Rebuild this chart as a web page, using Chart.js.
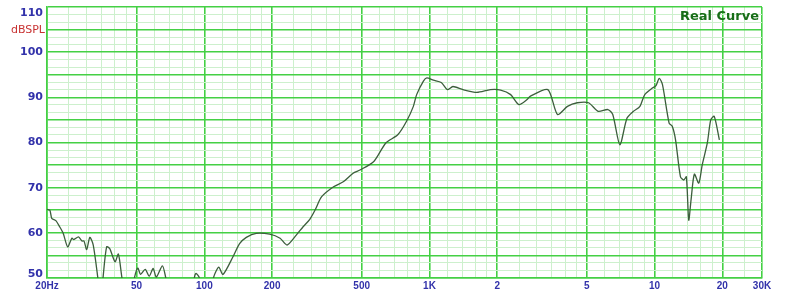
<!DOCTYPE html>
<html>
<head>
<meta charset="utf-8">
<script src="https://cdn.jsdelivr.net/npm/chart.js@4.4.1/dist/chart.umd.min.js"></script>
<style>
  html, body { margin: 0; padding: 0; background: #fff; }
  #wrap { width: 800px; height: 294px; }
</style>
</head>
<body>
<div id="wrap"><canvas id="fr-chart" width="800" height="294"></canvas></div>
<script>
const freqHz = [
    20, 20.6, 21, 21.9, 22.8, 23.6, 24.7, 25.8, 26.3, 27.6, 28.6, 29.2, 30, 31, 32.1,
    33.6, 34.3, 35, 35.5, 36.8, 38, 40.1, 41.5, 43, 44.5, 47.5, 49, 50.6, 52.1, 54.6,
    56.9, 59.2, 61.2, 65.1, 67.3, 70, 88, 90.4, 91.9, 94.7, 100, 107, 110, 115.9, 121,
    134, 143.4, 153.6, 170, 195, 217, 233, 256, 274, 294, 310, 332, 375, 414, 458,
    491, 566, 640, 723, 791, 848, 877, 940, 973, 1041, 1128, 1200, 1271, 1410, 1625,
    1866, 2070, 2295, 2496, 2714, 2798, 3357, 3705, 4101, 4532, 5088, 5617, 6205, 6519, 7008,
    7544, 8056, 8608, 9044, 9813, 10144, 10490, 10840, 11600, 11980, 12390, 13030, 13480, 13840, 14180,
    14520, 15020, 15710, 16270, 17150, 17760, 18400, 19400
];
const splDb = [
    65.2, 65.0, 63.2, 62.7, 61.3, 59.9, 56.9, 58.8, 58.5, 59.1, 58.2, 58.2, 56.3, 59.0, 57.3,
    50.2, 46, 46, 50.2, 56.9, 56.5, 53.6, 55.3, 50.2, 46, 46, 50.2, 52.2, 50.8, 51.9,
    50.4, 52.1, 50.2, 52.7, 50.2, 46, 46, 50.2, 51.0, 50.2, 46, 46, 50.2, 52.4, 50.8,
    54.7, 57.6, 59.0, 59.9, 59.7, 58.8, 57.3, 59.5, 61.3, 63.0, 65.0, 68.0, 70.2, 71.3, 73.2,
    73.9, 75.8, 79.9, 81.7, 84.7, 88.0, 90.6, 93.6, 94.3, 93.8, 93.3, 91.7, 92.4, 91.7, 91.1,
    91.7, 91.6, 90.6, 88.4, 89.5, 90.2, 91.7, 86.2, 88.0, 88.8, 88.8, 86.9, 87.3, 86.2, 79.5,
    85.4, 86.9, 88.0, 90.6, 92.1, 92.6, 94.2, 92.8, 84.3, 83.6, 80.6, 72.4, 71.7, 72.4, 62.8,
    67.3, 73.0, 71.0, 75.0, 79.9, 85.0, 85.8, 80.6
];

// frequency grid: bold lines and light lines
const xMajor = [20, 50, 100, 200, 500, 1000, 2000, 5000, 10000, 20000, 30000];
const xMinor = [
    25, 30, 35, 40, 45, 60, 70, 80, 90,
    120, 140, 160, 180, 250, 300, 350, 400, 450, 600, 700, 800, 900,
    1200, 1400, 1600, 1800, 2500, 3000, 3500, 4000, 4500, 6000, 7000, 8000, 9000,
    12000, 14000, 16000, 18000, 25000
];
const xLabels = {
    20: '20Hz', 50: '50', 100: '100', 200: '200', 500: '500', 1000: '1K',
    2000: '2', 5000: '5', 10000: '10', 20000: '20', 30000: '30K'
};
const yLabels = [50, 60, 70, 80, 90, 100, 110];
const yMin = 50, yMax = 110;

const GRID_BRIGHT = '#44d044';
const GRID_LIGHT = '#cdf0cd';
const LABEL_BLUE = '#3232aa';

const xTicks = xMajor.concat(xMinor).sort((a, b) => a - b);
const yTicks = [];
for (let i = 0; i <= (yMax - yMin) * 3 / 5; i++) yTicks.push(yMin + (i * 5) / 3);

const isXMajor = v => xMajor.includes(v);
const isYMajor = v => Math.abs(((v - yMin) / 5) - Math.round((v - yMin) / 5)) < 1e-6;

const textPlugin = {
    id: 'textPlugin',
    afterDraw(chart) {
        const {ctx, chartArea} = chart;
        ctx.save();
        ctx.textAlign = 'right';
        ctx.textBaseline = 'middle';
        ctx.fillStyle = '#c83232';
        ctx.font = '11px "DejaVu Sans"';
        ctx.fillText('dBSPL', chartArea.left - 2, 30);
        ctx.fillStyle = '#176e17';
        ctx.font = 'bold 13px "DejaVu Sans"';
        ctx.textBaseline = 'alphabetic';
        ctx.fillText('Real Curve', chartArea.right - 3, chartArea.top + 13);
        ctx.restore();
    }
};

new Chart(document.getElementById('fr-chart'), {
    type: 'line',
    data: {
        datasets: [{
            label: 'Real Curve',
            data: freqHz.map((f, i) => ({x: f, y: splDb[i]})),
            borderColor: '#3c5e3c',
            borderWidth: 1.3,
            pointRadius: 0,
            tension: 0.25,
            fill: false
        }]
    },
    options: {
        responsive: false,
        maintainAspectRatio: false,
        animation: false,
        layout: {padding: {top: 7, right: 38, left: 0, bottom: 0}},
        plugins: {legend: {display: false}, tooltip: {enabled: false}},
        scales: {
            x: {
                type: 'logarithmic',
                min: 20,
                max: 30000,
                afterBuildTicks: s => { s.ticks = xTicks.map(v => ({value: v})); },
                afterFit: s => { s.height = 16; s.paddingLeft = 0; s.paddingRight = 0; },
                grid: {
                    drawTicks: false,
                    color: c => isXMajor(c.tick.value) ? GRID_BRIGHT : GRID_LIGHT,
                    lineWidth: c => isXMajor(c.tick.value) ? 1.6 : 1
                },
                border: {color: GRID_BRIGHT, width: 1.6},
                ticks: {
                    autoSkip: false,
                    maxRotation: 0,
                    minRotation: 0,
                    padding: 2,
                    color: LABEL_BLUE,
                    font: {family: '"Liberation Sans"', size: 10, weight: 'bold'},
                    callback: v => xLabels[v] || ''
                }
            },
            y: {
                min: yMin,
                max: yMax,
                afterBuildTicks: s => { s.ticks = yTicks.map(v => ({value: v})); },
                afterFit: s => { s.width = 47; s.paddingTop = 0; s.paddingBottom = 0; },
                grid: {
                    drawTicks: false,
                    color: c => isYMajor(c.tick.value) ? GRID_BRIGHT : GRID_LIGHT,
                    lineWidth: c => isYMajor(c.tick.value) ? 1.6 : 1
                },
                border: {color: GRID_BRIGHT, width: 1.6},
                ticks: {
                    autoSkip: false,
                    padding: 4,
                    color: LABEL_BLUE,
                    font: c => ({
                        family: '"DejaVu Sans"', size: 11, weight: 'bold',
                        lineHeight: c.tick && Math.round(c.tick.value) === yMin ? 0.67 : 1.2
                    }),
                    callback: v => {
                        const r = Math.round(v);
                        if (Math.abs(v - r) > 1e-6 || !yLabels.includes(r)) return '';
                        if (r === yMax) return ['', String(r)];
                        if (r === yMin) return [String(r), ''];
                        return String(r);
                    }
                }
            }
        }
    },
    plugins: [textPlugin]
});
</script>
</body>
</html>
